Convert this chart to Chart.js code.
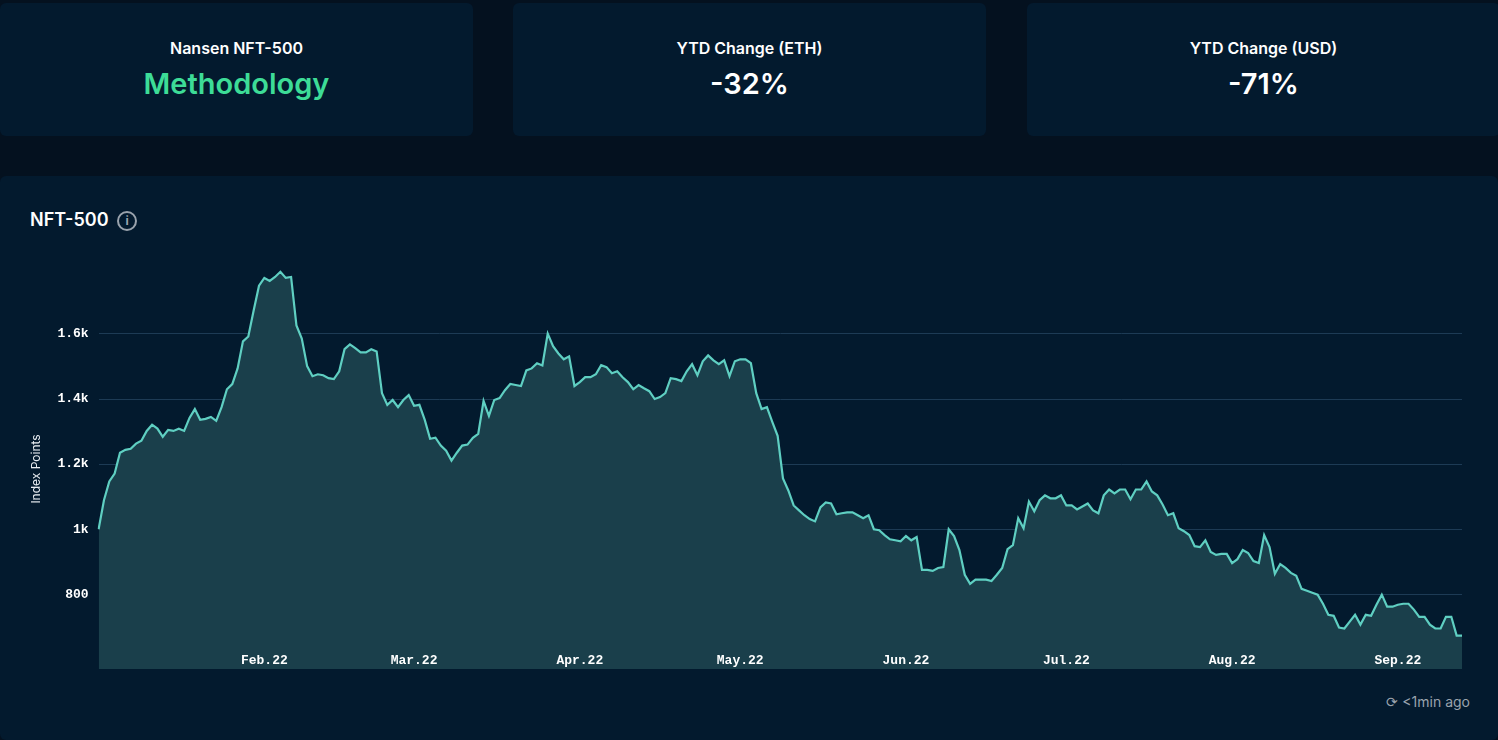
<!DOCTYPE html>
<html>
<head>
<meta charset="utf-8">
<script src="https://cdn.jsdelivr.net/npm/chart.js@4"></script>
<style>
  body { margin: 0; background: #04111f; width: 1498px; height: 740px; overflow: hidden; font-family: Inter, sans-serif; }
  .card { position: absolute; background: #031a2e; border-radius: 6px; color: #fff; text-align: center; }
  .card .t { font-size: 16px; font-weight: 600; margin-top: 35px; }
  .card .v { font-size: 29px; font-weight: 600; margin-top: 8px; }
  #main { position: absolute; left: 0; top: 176px; width: 1498px; height: 564px; background: #031a2e; border-radius: 6px; }
  #title { position: absolute; left: 30px; top: 33px; color: #fff; font-size: 18px; font-weight: 600; }
  #info { display: inline-block; width: 16px; height: 16px; border: 2px solid #9aa3ad; border-radius: 50%; color: #9aa3ad; font-size: 12px; line-height: 16px; text-align: center; vertical-align: 1px; margin-left: 4px; font-weight: 700; }
  #ago { position: absolute; right: 28px; top: 517px; color: #9aa3ad; font-size: 14px; }
  #wrap { position: absolute; left: 25px; top: 75px; width: 1437px; height: 436px; }
</style>
</head>
<body>
<div class="card" style="left:0;top:3px;width:473px;height:133px"><div class="t">Nansen NFT-500</div><div class="v" style="color:#3ddc97">Methodology</div></div>
<div class="card" style="left:513px;top:3px;width:473px;height:133px"><div class="t">YTD Change (ETH)</div><div class="v">-32%</div></div>
<div class="card" style="left:1027px;top:3px;width:473px;height:133px"><div class="t">YTD Change (USD)</div><div class="v">-71%</div></div>
<div id="main">
  <div id="title">NFT-500 <span id="info">i</span></div>
  <div id="wrap"><canvas id="nftChart"></canvas></div>
  <div id="ago">&#x27F3; &lt;1min ago</div>
</div>
<script>
const startDate = '2022-01-01';
const monthNames = ['Jan', 'Feb', 'Mar', 'Apr', 'May', 'Jun', 'Jul', 'Aug', 'Sep', 'Oct', 'Nov', 'Dec'];
const yTicks = [800, 1000, 1200, 1400, 1600];
const indexValues = [
  1000, 1089, 1147, 1171, 1235, 1244, 1247, 1263, 1272, 1302, 1321, 1309, 1284, 1305, 1302, 1309, 1302,
  1342, 1369, 1336, 1339, 1345, 1333, 1375, 1430, 1446, 1494, 1577, 1592, 1672, 1748, 1772, 1763, 1775,
  1791, 1772, 1775, 1626, 1586, 1501, 1470, 1476, 1473, 1464, 1461, 1485, 1553, 1568, 1556, 1543, 1543,
  1553, 1546, 1418, 1382, 1397, 1375, 1397, 1412, 1379, 1382, 1336, 1278, 1281, 1257, 1241, 1211, 1235,
  1257, 1260, 1281, 1293, 1394, 1348, 1397, 1403, 1427, 1446, 1443, 1440, 1488, 1494, 1510, 1503, 1601,
  1562, 1540, 1522, 1531, 1440, 1452, 1467, 1467, 1476, 1504, 1498, 1479, 1485, 1467, 1452, 1430, 1443,
  1433, 1424, 1400, 1406, 1418, 1464, 1461, 1455, 1485, 1507, 1473, 1516, 1534, 1519, 1507, 1519, 1470,
  1516, 1522, 1522, 1510, 1418, 1369, 1375, 1330, 1287, 1156, 1119, 1073, 1058, 1043, 1031, 1024, 1067,
  1082, 1079, 1046, 1049, 1052, 1052, 1043, 1034, 1043, 1000, 997, 982, 969, 966, 963, 979, 966, 976,
  875, 875, 872, 881, 884, 1000, 979, 936, 860, 832, 845, 845, 845, 841, 860,
  881, 939, 951, 1034, 1003, 1085, 1055, 1089, 1104, 1095, 1095, 1104, 1073, 1073, 1061, 1070, 1079,
  1058, 1049, 1104, 1122, 1110, 1122, 1122, 1092, 1122, 1122, 1147, 1116, 1104, 1076, 1043, 1049, 1003,
  994, 982, 948, 945, 966, 930, 921, 924, 924, 896, 908, 936, 927, 902, 896, 982, 945, 863, 893, 881,
  866, 857, 817, 811, 805, 799, 771, 737, 734, 698, 695, 716, 737, 707, 737, 734, 768, 799, 762, 762,
  768, 771, 771, 753, 731, 731, 707, 695, 695, 731, 731, 673, 673
];

// one label per day, starting at startDate
const dayLabels = indexValues.map((_, i) => {
  const d = new Date(startDate + 'T00:00:00Z');
  d.setUTCDate(d.getUTCDate() + i);
  return d;
});

const fmtK = v => v >= 1000 ? (v / 1000).toString() + 'k' : v.toString();
const monthLabel = i => {
  const d = dayLabels[i];
  if (d.getUTCDate() !== 1 || d.getUTCMonth() === 0) return null;
  return monthNames[d.getUTCMonth()] + '.22';
};

// month labels sit inside the plot, on top of the filled area
const innerLabels = {
  id: 'innerLabels',
  afterDatasetsDraw(chart) {
    const { ctx, chartArea, scales: { x } } = chart;
    ctx.save();
    ctx.fillStyle = '#ffffff';
    ctx.font = 'bold 13px "Liberation Mono"';
    ctx.textAlign = 'center';
    ctx.textBaseline = 'middle';
    dayLabels.forEach((_, i) => {
      const txt = monthLabel(i);
      if (txt) ctx.fillText(txt, x.getPixelForValue(i), chartArea.bottom - 8);
    });
    ctx.restore();
  }
};

new Chart(document.getElementById('nftChart'), {
  type: 'line',
  data: {
    labels: dayLabels,
    datasets: [{
      data: indexValues,
      borderColor: '#5fcfc2',
      backgroundColor: '#1a3f4b',
      borderWidth: 2.2,
      pointRadius: 0,
      fill: 'start',
      tension: 0
    }]
  },
  plugins: [innerLabels],
  options: {
    responsive: true,
    maintainAspectRatio: false,
    animation: false,
    plugins: { legend: { display: false }, tooltip: { enabled: false } },
    scales: {
      x: {
        grid: { display: false },
        border: { display: false },
        ticks: {
          autoSkip: false,
          maxRotation: 0,
          padding: -23,
          color: 'rgba(0,0,0,0)',
          font: { family: 'Liberation Mono', size: 13, weight: 'bold' },
          callback: (val, i) => monthLabel(i)
        }
      },
      y: {
        min: 570,
        max: 1800,
        afterBuildTicks: axis => { axis.ticks = yTicks.map(v => ({ value: v })); },
        grid: { color: '#1d3b55', drawTicks: false },
        border: { display: false },
        title: { display: true, text: 'Index Points', color: '#e8edf2', font: { family: 'Inter', size: 12 } },
        ticks: {
          color: '#ffffff',
          padding: 10,
          font: { family: 'Liberation Mono', size: 13, weight: 'bold' },
          callback: v => fmtK(v)
        }
      }
    }
  }
});
</script>
</body>
</html>
